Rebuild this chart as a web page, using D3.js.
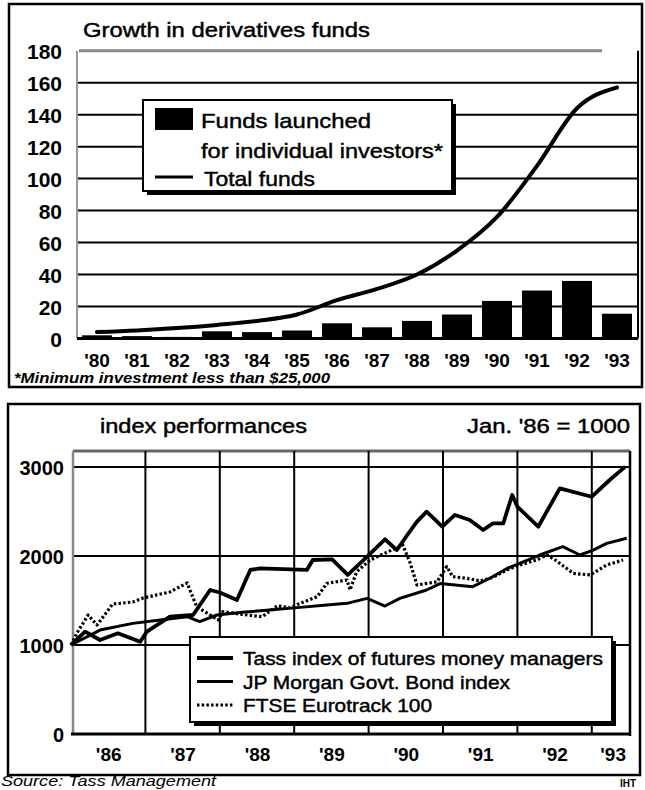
<!DOCTYPE html>
<html><head><meta charset="utf-8">
<script src="https://cdn.jsdelivr.net/npm/d3@7"></script>
<style>
body{margin:0;background:#fff}
svg{display:block}
text{font-family:"Liberation Sans",Arial,Helvetica,sans-serif;fill:#000}
.thick{stroke:#000;stroke-width:0.45px}
</style>
</head><body>
<svg id="c" width="645" height="790"></svg>
<script>
// ---------- DATA ----------
const years = ["'80","'81","'82","'83","'84","'85","'86","'87","'88","'89","'90","'91","'92","'93"];
const fundsLaunched = [2, 1.5, 1, 4.5, 4, 5, 9.5, 7, 11, 15, 23.5, 30, 36, 15.5];
const totalFunds = [4, 5, 6.5, 8.5, 11, 15, 24, 31, 40, 55, 76, 108, 144, 157];
const fundTicks = [0, 20, 40, 60, 80, 100, 120, 140, 160, 180];

const idxYears = ["'86","'87","'88","'89","'90","'91","'92","'93"];
const idxTicks = [0, 1000, 2000, 3000];
const tass = [[1986.0,1000],[1986.19,1150],[1986.39,1056],[1986.63,1131],[1986.93,1037],[1987.02,1150],[1987.33,1318],[1987.64,1337],[1987.87,1618],[1988.0,1590],[1988.23,1506],[1988.41,1843],[1988.54,1862],[1989.17,1843],[1989.25,1955],[1989.51,1963],[1989.72,1787],[1989.98,1992],[1990.22,2188],[1990.38,2067],[1990.52,2236],[1990.65,2386],[1990.78,2498],[1990.99,2329],[1991.16,2461],[1991.36,2404],[1991.54,2292],[1991.67,2367],[1991.81,2367],[1991.93,2685],[1992.0,2554],[1992.28,2329],[1992.57,2760],[1993.0,2666],[1993.24,2854],[1993.45,3004]];
const jpMorgan = [[1986.0,1000],[1986.39,1168],[1986.83,1243],[1987.2,1281],[1987.56,1318],[1987.73,1262],[1987.96,1337],[1988.34,1370],[1988.67,1393],[1989.04,1420],[1989.44,1450],[1989.71,1468],[1989.98,1524],[1990.22,1438],[1990.42,1524],[1990.78,1618],[1990.96,1690],[1991.4,1655],[1991.63,1750],[1991.86,1860],[1992.3,2011],[1992.61,2105],[1992.84,2011],[1993.02,2067],[1993.2,2142],[1993.47,2199]];
const ftse = [[1986.0,1000],[1986.08,1135],[1986.23,1337],[1986.35,1225],[1986.56,1460],[1986.83,1483],[1986.97,1528],[1987.33,1596],[1987.56,1697],[1987.69,1430],[1987.98,1281],[1988.04,1374],[1988.34,1340],[1988.57,1318],[1988.77,1440],[1988.94,1420],[1989.08,1468],[1989.31,1543],[1989.44,1693],[1989.71,1730],[1989.75,1618],[1989.84,1824],[1990.02,1955],[1990.46,2124],[1990.56,1918],[1990.65,1674],[1990.92,1711],[1991.05,1880],[1991.13,1768],[1991.32,1749],[1991.5,1720],[1991.67,1760],[1991.86,1843],[1992.03,1899],[1992.26,1955],[1992.4,2011],[1992.51,1955],[1992.75,1805],[1992.98,1787],[1993.2,1899],[1993.42,1955]];

// ---------- SETUP ----------
const svg = d3.select("#c");
svg.append("rect").attr("width",645).attr("height",790).attr("fill","#fff");

function panel(x0,y0,x1,y1){
  svg.append("path").attr("d",`M${x0},${y0}H${x1}V${y1}H${x0}Z`)
    .attr("fill","none").attr("stroke","#000").attr("stroke-width",2.5);
}
panel(9,4,642,387);
panel(8,404,640,775);

// ---------- TOP CHART ----------
const x1 = d3.scaleBand().domain(years).range([77,637]).paddingInner(0.25).paddingOuter(0.125);
const y1 = d3.scaleLinear().domain([0,180]).range([338.5,50.7]);
const g1 = svg.append("g");

g1.append("text").attr("class","thick").attr("x",83).attr("y",37).attr("font-size",20)
  .attr("textLength",287).attr("lengthAdjust","spacingAndGlyphs").text("Growth in derivatives funds");

// gridlines
g1.selectAll(".hg").data(fundTicks.filter(d=>d>0 && d<180)).join("line")
  .attr("x1",77).attr("x2",638).attr("y1",d=>y1(d)).attr("y2",d=>y1(d))
  .attr("stroke","#000").attr("stroke-width",2);
g1.append("line").attr("x1",79).attr("x2",602).attr("y1",y1(180)).attr("y2",y1(180))
  .attr("stroke","#888").attr("stroke-width",3);
g1.append("line").attr("x1",77).attr("x2",77).attr("y1",y1(180)).attr("y2",y1(0))
  .attr("stroke","#999").attr("stroke-width",2);
g1.append("line").attr("x1",638).attr("x2",638).attr("y1",y1(180)).attr("y2",y1(0))
  .attr("stroke","#000").attr("stroke-width",2);

// y axis labels
const ay1 = g1.append("g").attr("transform","translate(62,0)")
  .call(d3.axisLeft(y1).tickValues(fundTicks).tickFormat(d3.format("d")).tickSize(0).tickPadding(0));
ay1.select(".domain").remove();
ay1.selectAll("text").attr("font-size",21).attr("font-weight","bold").attr("font-family",null).attr("dy","0.36em");

// bars
g1.selectAll(".bar").data(fundsLaunched).join("rect")
  .attr("x",(d,i)=>x1(years[i])).attr("width",x1.bandwidth())
  .attr("y",d=>y1(d)).attr("height",d=>y1(0)-y1(d)).attr("fill","#000");

// baseline
g1.append("line").attr("x1",77).attr("x2",638).attr("y1",y1(0)).attr("y2",y1(0))
  .attr("stroke","#000").attr("stroke-width",3);

// total funds line
g1.append("path").datum(totalFunds)
  .attr("d",d3.line().x((d,i)=>x1(years[i])+x1.bandwidth()/2).y(d=>y1(d)).curve(d3.curveMonotoneX))
  .attr("fill","none").attr("stroke","#000").attr("stroke-width",4).attr("stroke-linecap","round");

// x axis labels
const ax1 = g1.append("g").attr("transform",`translate(0,${y1(0)+18})`)
  .call(d3.axisBottom(x1).tickSize(0).tickPadding(0));
ax1.select(".domain").remove();
ax1.selectAll("text").attr("font-size",19).attr("font-weight","bold").attr("font-family",null).attr("dy","0.55em");

g1.append("text").attr("x",14).attr("y",383).attr("font-size",15).attr("font-weight","bold").attr("font-style","italic")
  .attr("textLength",316).attr("lengthAdjust","spacingAndGlyphs").text("*Minimum investment less than $25,000");

// legend top
const L1 = g1.append("g");
L1.append("rect").attr("x",147).attr("y",104).attr("width",309).attr("height",91).attr("fill","#000");
L1.append("rect").attr("x",143).attr("y",100).attr("width",309).attr("height",91).attr("fill","#fff").attr("stroke","#000").attr("stroke-width",2);
L1.append("rect").attr("x",155).attr("y",108).attr("width",38).attr("height",22).attr("fill","#000");
L1.append("text").attr("class","thick").attr("x",201).attr("y",128).attr("font-size",21).attr("textLength",170).attr("lengthAdjust","spacingAndGlyphs").text("Funds launched");
L1.append("text").attr("class","thick").attr("x",201).attr("y",158).attr("font-size",21).attr("textLength",242).attr("lengthAdjust","spacingAndGlyphs").text("for individual investors*");
L1.append("line").attr("x1",155).attr("x2",193).attr("y1",177).attr("y2",177).attr("stroke","#000").attr("stroke-width",3);
L1.append("text").attr("class","thick").attr("x",204).attr("y",186).attr("font-size",21).attr("textLength",111).attr("lengthAdjust","spacingAndGlyphs").text("Total funds");

// ---------- BOTTOM CHART ----------
const x2 = d3.scaleLinear().domain([1986,1993.5]).range([71,629]);
const y2 = d3.scaleLinear().domain([0,3000]).range([734,467]);
const g2 = svg.append("g");

g2.append("text").attr("class","thick").attr("x",100).attr("y",433).attr("font-size",20)
  .attr("textLength",207).attr("lengthAdjust","spacingAndGlyphs").text("index performances");
g2.append("text").attr("class","thick").attr("x",630).attr("y",433).attr("font-size",20).attr("text-anchor","end")
  .attr("textLength",163).attr("lengthAdjust","spacingAndGlyphs").text("Jan. '86 = 1000");

const top2 = 451;
g2.append("line").attr("x1",73).attr("x2",630).attr("y1",top2).attr("y2",top2).attr("stroke","#666").attr("stroke-width",3);
g2.selectAll(".hg2").data(idxTicks.filter(d=>d>0)).join("line")
  .attr("x1",73).attr("x2",630).attr("y1",d=>y2(d)).attr("y2",d=>y2(d))
  .attr("stroke","#000").attr("stroke-width",2);
g2.selectAll(".vg2").data(d3.range(1987,1994)).join("line")
  .attr("x1",d=>x2(d)).attr("x2",d=>x2(d)).attr("y1",top2).attr("y2",y2(0))
  .attr("stroke","#000").attr("stroke-width",2);
g2.append("line").attr("x1",73).attr("x2",73).attr("y1",top2).attr("y2",y2(0)).attr("stroke","#888").attr("stroke-width",2.5);
g2.append("line").attr("x1",630).attr("x2",630).attr("y1",top2).attr("y2",y2(0)+2).attr("stroke","#000").attr("stroke-width",2.5);
g2.append("line").attr("x1",71).attr("x2",631).attr("y1",y2(0)).attr("y2",y2(0)).attr("stroke","#000").attr("stroke-width",3);

const ay2 = g2.append("g").attr("transform","translate(64,0)")
  .call(d3.axisLeft(y2).tickValues(idxTicks).tickFormat(d3.format("d")).tickSize(0).tickPadding(0));
ay2.select(".domain").remove();
ay2.selectAll("text").attr("font-size",20).attr("font-weight","bold").attr("font-family",null).attr("dy","0.36em");

const xLabelPos = [1986.5,1987.5,1988.5,1989.5,1990.5,1991.5,1992.5,1993.28];
const ax2 = g2.append("g").attr("transform",`translate(0,${y2(0)+17})`)
  .call(d3.axisBottom(x2).tickValues(xLabelPos).tickFormat((d,i)=>idxYears[i]).tickSize(0).tickPadding(0));
ax2.select(".domain").remove();
ax2.selectAll("text").attr("font-size",19).attr("font-weight","bold").attr("font-family",null).attr("dy","0.55em");

const line2 = d3.line().x(d=>x2(d[0])).y(d=>y2(d[1]));
g2.append("path").datum(ftse).attr("d",line2).attr("fill","none").attr("stroke","#000")
  .attr("stroke-width",3.2).attr("stroke-dasharray","2.5,2.2").attr("stroke-linejoin","round");
g2.append("path").datum(jpMorgan).attr("d",line2).attr("fill","none").attr("stroke","#000")
  .attr("stroke-width",3).attr("stroke-linejoin","round");
g2.append("path").datum(tass).attr("d",line2).attr("fill","none").attr("stroke","#000")
  .attr("stroke-width",3.8).attr("stroke-linejoin","round");

// legend bottom
const L2 = g2.append("g");
L2.append("rect").attr("x",194).attr("y",641).attr("width",422).attr("height",85).attr("fill","#000");
L2.append("rect").attr("x",190).attr("y",637).attr("width",422).attr("height",85).attr("fill","#fff").attr("stroke","#000").attr("stroke-width",2);
const leg2 = [
  {t:"Tass index of futures money managers", w:360, dash:null, sw:3.8},
  {t:"JP Morgan Govt. Bond index", w:267, dash:null, sw:3},
  {t:"FTSE Eurotrack 100", w:189, dash:"2.5,2.2", sw:3.2}
];
leg2.forEach((d,i)=>{
  const yy = 658 + i*23.5;
  L2.append("line").attr("x1",197).attr("x2",233).attr("y1",yy).attr("y2",yy)
    .attr("stroke","#000").attr("stroke-width",d.sw).attr("stroke-dasharray",d.dash);
  L2.append("text").attr("class","thick").attr("x",243).attr("y",yy+7).attr("font-size",19)
    .attr("textLength",d.w).attr("lengthAdjust","spacingAndGlyphs").text(d.t);
});

svg.append("text").attr("x",1).attr("y",786).attr("font-size",14).attr("font-style","italic")
  .attr("textLength",215).attr("lengthAdjust","spacingAndGlyphs").text("Source: Tass Management");
svg.append("text").attr("x",620).attr("y",787).attr("font-size",10).attr("font-weight","bold").text("IHT");
</script>
</body></html>
